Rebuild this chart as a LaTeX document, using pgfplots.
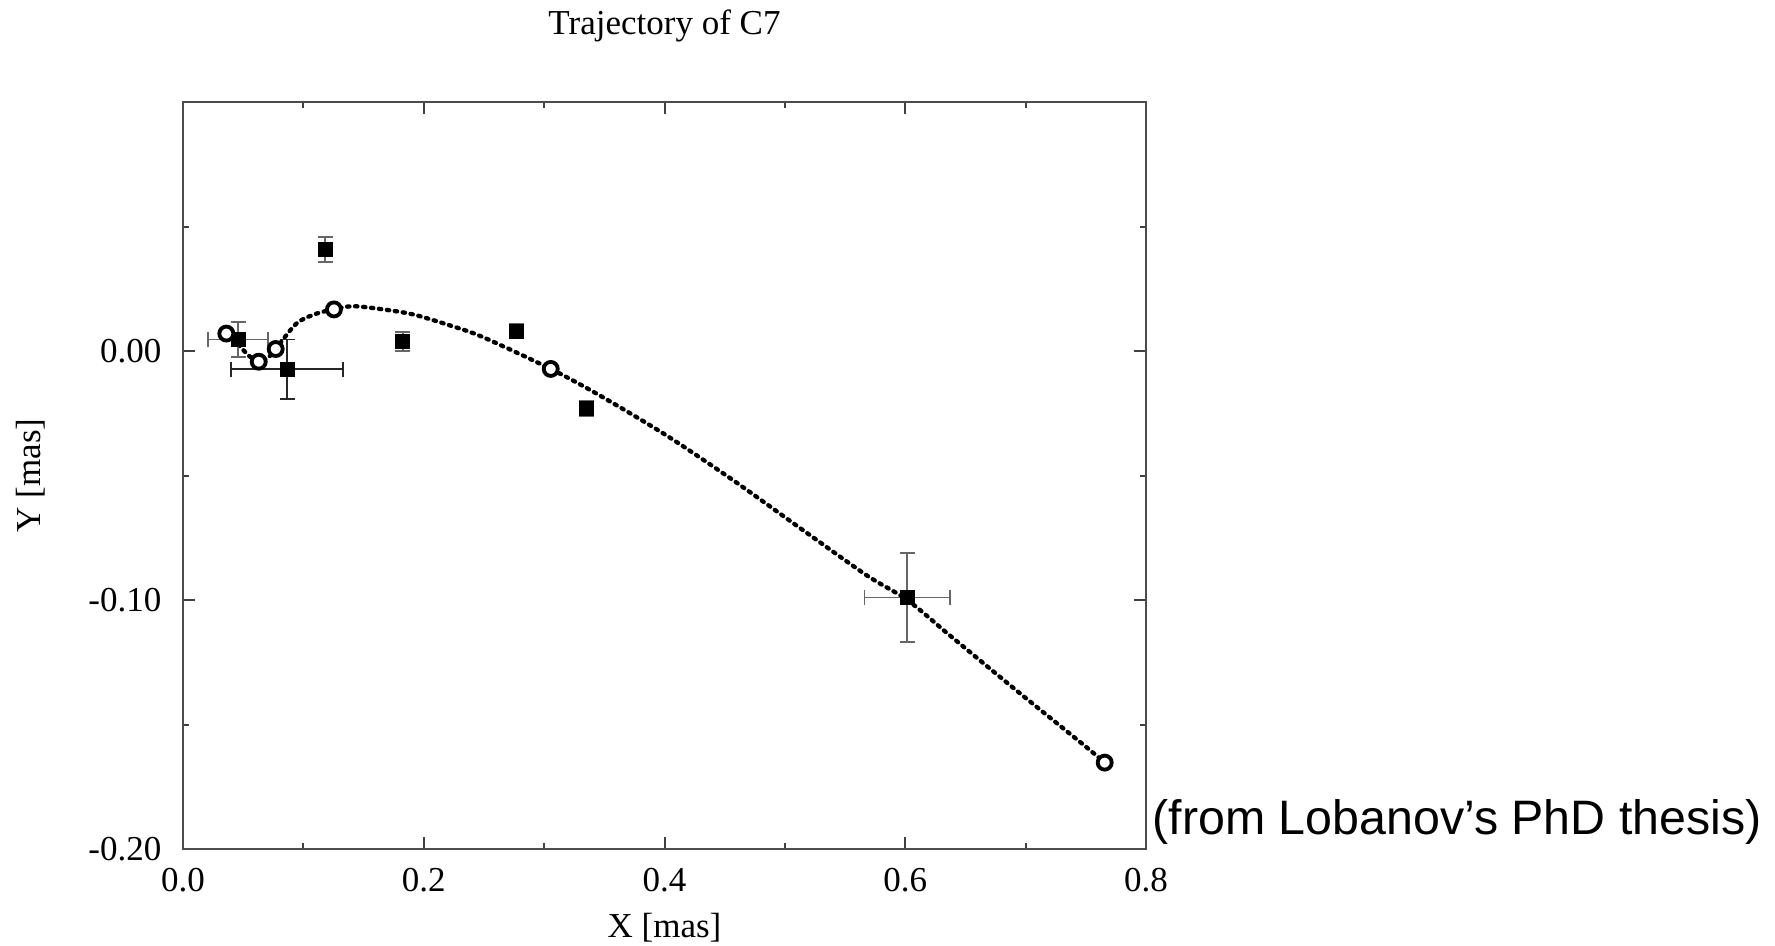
\documentclass[border=0pt]{standalone}
\usepackage{fontspec}
\setmainfont{Liberation Serif}
\newfontfamily\sansf{Liberation Sans}
\usepackage{pgfplots}
\pgfplotsset{compat=1.18}
\begin{document}
\fontsize{10.5}{12.6}\selectfont
\begin{tikzpicture}
\begin{axis}[name=ax, scale only axis, width=288.9pt, height=224.1pt,
 xmin=0, xmax=0.8, ymin=-0.2, ymax=0.1,
 xtick={0,0.2,0.4,0.6,0.8}, xticklabels={0.0,0.2,0.4,0.6,0.8},
 minor xtick={0.1,0.3,0.5,0.7},
 ytick={-0.2,-0.1,0}, yticklabels={-0.20,-0.10,0.00},
 minor ytick={-0.15,-0.05,0.05},
 major tick length=3.6pt, minor tick length=1.8pt,
 tick align=inside,
 axis line style={line width=0.65pt, black!70},
 tick style={line width=0.6pt, black!75},
 xticklabel style={anchor=base, yshift=-12.6pt, inner sep=0pt, font=\fontsize{10.5}{12.6}\selectfont},
 yticklabel style={anchor=east, inner sep=0pt, xshift=-6.3pt, font=\fontsize{10.5}{12.6}\selectfont},
 clip=false,
]
% fitted trajectory
\addplot[black, line width=1.3pt, line cap=round, dash pattern=on 0.7pt off 1.7pt, smooth, tension=0.5] coordinates {
(0.036,0.007) (0.045,0.003) (0.055,-0.002) (0.063,-0.0043) (0.070,-0.003)
(0.077,0.0008) (0.0942,0.011) (0.1108,0.015) (0.1254,0.0167) (0.141,0.018)
(0.165,0.0168) (0.191,0.0147) (0.2216,0.0103) (0.249,0.0056) (0.3055,-0.0072)
(0.346,-0.0178) (0.4016,-0.0339) (0.457,-0.0519) (0.5123,-0.0710) (0.5677,-0.0900)
(0.6017,-0.1000) (0.637,-0.1142) (0.6923,-0.1363) (0.7477,-0.1580) (0.7657,-0.1653)
};
% measured positions with error bars
\addplot[only marks, mark=square*, mark size=2.05pt, black,
 error bars/.cd, x dir=both, x explicit, y dir=both, y explicit,
 error bar style={line width=0.55pt, black!60},
 error mark options={rotate=90, line width=0.55pt, mark size=2.25pt, black!60}]
 table[x=x, y=y, x error=ex, y error=ey] {
x y ex ey
0.0457 0.0046 0.025 0.007
0.1183 0.0407 0.003 0.005
0.1825 0.0038 0.003 0.0038
0.277 0.008 0.004 0.003
0.335 -0.0231 0.004 0.003
0.6017 -0.099 0.0356 0.0179
};
\addplot[only marks, mark=square*, mark size=2.05pt, black,
 error bars/.cd, x dir=both, x explicit, y dir=both, y explicit,
 error bar style={line width=0.55pt, black!85},
 error mark options={rotate=90, line width=0.55pt, mark size=2.25pt, black!85}]
 table[x=x, y=y, x error=ex, y error=ey] {
x y ex ey
0.0864 -0.00735 0.0466 0.012
};
% model positions
\addplot[only marks, mark=*, mark size=2.1pt, black, line width=1.15pt, mark options={fill=white}] coordinates {
(0.036,0.007) (0.0629,-0.0043) (0.077,0.0008) (0.1254,0.0167) (0.3055,-0.0072) (0.7657,-0.1653)
};
\end{axis}
\node[anchor=base] at ([yshift=20.1pt]ax.north) {Trajectory of C7};
\node[anchor=base] at ([yshift=-26.4pt]ax.south) {X [mas]};
\node[rotate=90, anchor=base] at ([xshift=-42.9pt]ax.west) {Y [mas]};
\node[anchor=base west, inner sep=0pt, font=\sansf\fontsize{14.5}{17}\selectfont] at ([xshift=1.8pt, yshift=4.5pt]ax.south east) {(from Lobanov’s PhD thesis)};
\pgfresetboundingbox
\path ([shift={(-54.9pt,-28.8pt)}]ax.south west) rectangle ([shift={(188.7pt,30.6pt)}]ax.north east);
\end{tikzpicture}
\end{document}
